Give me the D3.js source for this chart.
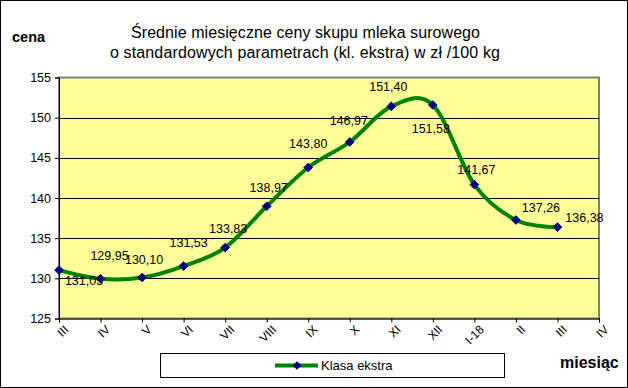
<!DOCTYPE html>
<html><head><meta charset="utf-8">
<script src="https://cdn.jsdelivr.net/npm/d3@7"></script>
<style>body{margin:0;background:#fff}svg{display:block;font-family:"Liberation Sans",Arial,sans-serif}</style>
</head><body><svg id="c" width="628" height="388"></svg>
<script>
const months = ["III","IV","V","VI","VII","VIII","IX","X","XI","XII","I-18","II","III","IV"];
const values = [131.03,129.95,130.10,131.53,133.83,138.97,143.80,146.97,151.40,151.58,141.67,137.26,136.38];
const labels = ["131,03","129,95","130,10","131,53","133,83","138,97","143,80","146,97","151,40","151,58","141,67","137,26","136,38"];
const yTicks = [125,130,135,140,145,150,155];
const seriesName = "Klasa ekstra";
// label offsets (layout only)
const lblOff = [[25,15],[9,-19],[2,-14],[5,-19],[3,-15],[2,-14],[0,-19],[-1,-17],[-3,-15],[-2,28],[2,-11],[25,-8],[27,-5]];

const svg = d3.select("#c");
svg.append("rect").attr("x",0.5).attr("y",0.5).attr("width",627).attr("height",387).attr("fill","#fff").attr("stroke","#000");

const L=59,R=599,T=77.5,B=318.5;
const x = d3.scalePoint().domain(d3.range(months.length)).range([L,R]);
const y = d3.scaleLinear().domain([125,155]).range([B,T]);

svg.append("rect").attr("x",L).attr("y",T).attr("width",R-L).attr("height",B-T).attr("fill","#FFFF99").attr("stroke","#808080").attr("stroke-width",2);

// grid
svg.append("g").selectAll("line").data(yTicks.filter(d=>d>125&&d<155)).join("line")
  .attr("x1",L).attr("x2",R).attr("y1",d=>Math.round(y(d))+0.5).attr("y2",d=>Math.round(y(d))+0.5).attr("stroke","#000");

// y axis
const ya = svg.append("g").attr("transform",`translate(${L},0)`).call(d3.axisLeft(y).tickValues(yTicks).tickSize(4).tickPadding(4));
ya.select(".domain").attr("stroke","#000");
ya.selectAll("text").attr("font-size",12.5).attr("fill","#000").attr("font-family","Liberation Sans, Arial");
// x axis
const xa = svg.append("g").attr("transform",`translate(0,${B})`).call(d3.axisBottom(x).tickSize(4).tickFormat(i=>months[i]));
xa.select(".domain").attr("stroke","#000");
xa.selectAll("text").attr("font-size",12).attr("fill","#000").attr("font-family","Liberation Sans, Arial")
  .attr("text-anchor","end").attr("transform","translate(4,6) rotate(-45)").attr("dy","0.35em").attr("y",4);

// line
const pts = values.map((v,i)=>[x(i),y(v)]);
svg.append("path").attr("d",d3.line().curve(d3.curveCardinal.tension(0))(pts))
  .attr("fill","none").attr("stroke","#008000").attr("stroke-width",4);
const diamond = d3.symbol().type(d3.symbolDiamond2).size(48);
svg.append("g").selectAll("path").data(pts).join("path").attr("d",diamond)
  .attr("transform",d=>`translate(${d[0]},${d[1]})`).attr("fill","#000080").attr("stroke","#000080");

// data labels
svg.append("g").selectAll("text").data(pts).join("text")
  .attr("x",(d,i)=>d[0]+lblOff[i][0]).attr("y",(d,i)=>d[1]+lblOff[i][1])
  .attr("text-anchor","middle").attr("font-size",12.5).attr("fill","#000").text((d,i)=>labels[i]);

// titles
svg.append("text").attr("x",305.5).attr("y",38).attr("text-anchor","middle").attr("font-size",16)
  .attr("textLength",349).attr("lengthAdjust","spacing").text("Średnie miesięczne ceny skupu mleka surowego");
svg.append("text").attr("x",305).attr("y",58).attr("text-anchor","middle").attr("font-size",16)
  .attr("textLength",390).attr("lengthAdjust","spacing").text("o standardowych parametrach (kl. ekstra) w zł /100 kg");
svg.append("text").attr("x",12).attr("y",42).attr("font-size",14.5).attr("font-weight","bold").text("cena");
svg.append("text").attr("x",560).attr("y",368).attr("font-size",16).attr("font-weight","bold").text("miesiąc");

// legend
svg.append("rect").attr("x",160.5).attr("y",353.5).attr("width",344).attr("height",24).attr("fill","#fff").attr("stroke","#000");
svg.append("line").attr("x1",275).attr("x2",318).attr("y1",365.5).attr("y2",365.5).attr("stroke","#008000").attr("stroke-width",4);
svg.append("path").attr("d",diamond).attr("transform","translate(297,365.5)").attr("fill","#000080");
svg.append("text").attr("x",321).attr("y",370).attr("font-size",13).text(seriesName);
</script></body></html>
